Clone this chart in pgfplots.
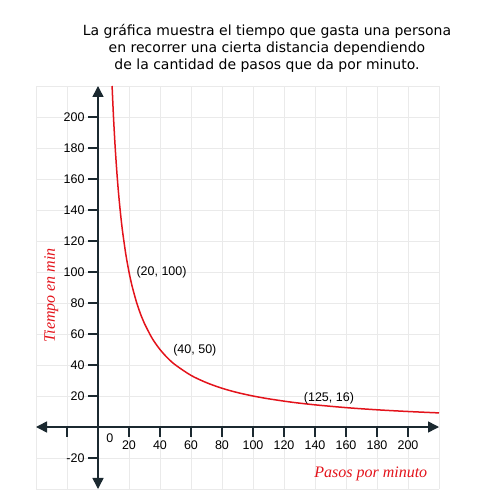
\documentclass[border=0pt]{standalone}
\usepackage{fontspec}
\setmainfont{Liberation Sans}
\newfontfamily\titlefont{DejaVu Sans}
\newfontfamily\labelfont{Liberation Serif}
\usepackage{pgfplots}
\pgfplotsset{compat=1.18}
\usetikzlibrary{arrows.meta}
\definecolor{axiscol}{HTML}{1B2930}
\definecolor{curvered}{HTML}{E3131B}
\definecolor{gridcol}{HTML}{EAEAEA}
\begin{document}
\begin{tikzpicture}
\useasboundingbox (0,0) rectangle (500bp,500bp);
\begin{axis}[
  at={(36bp,11bp)}, anchor=south west,
  scale only axis, width=403bp, height=403bp,
  xmin=-40, xmax=220, ymin=-40, ymax=220,
  axis lines=middle,
  axis line style={line width=1.6bp, color=axiscol, {Triangle[length=11bp,width=11bp]}-{Triangle[length=11bp,width=11bp]}},
  xtick={-20,20,40,60,80,100,120,140,160,180,200},
  xticklabels={,20,40,60,80,100,120,140,160,180,200},
  ytick={-20,20,40,60,80,100,120,140,160,180,200},
  minor xtick={-40,-20,...,220},
  minor ytick={-40,-20,...,220},
  grid=minor,
  minor grid style={gridcol, line width=0.8bp},
  minor tick length=0pt,
  tick align=outside,
  major tick length=10bp,
  every tick/.style={axiscol, line width=1.4bp},
  tick label style={font=\fontsize{12.5bp}{14bp}\selectfont, color=black},
  /pgf/number format/assume math mode=true,
  clip=false,
]
\addplot[curvered, line width=1.5bp, smooth, tension=0.5] coordinates {
(9.09,220) (10,200) (11,181.8) (12,166.7) (13,153.8) (14,142.9) (15,133.3)
(16,125) (18,111.1) (20,100) (22,90.9) (25,80) (28,71.4) (30,66.7) (35,57.1)
(40,50) (45,44.4) (50,40) (60,33.3) (70,28.6) (80,25) (90,22.2) (100,20)
(110,18.2) (125,16) (140,14.3) (160,12.5) (180,11.1) (200,10) (220,9.09)
};
\node[font=\fontsize{12.5bp}{14bp}\selectfont] at (axis cs:41,100) {(20, 100)};
\node[font=\fontsize{12.5bp}{14bp}\selectfont] at (axis cs:62.5,49.5) {(40, 50)};
\node[font=\fontsize{12.5bp}{14bp}\selectfont] at (axis cs:149,18.7) {(125, 16)};
\node[font=\fontsize{12.5bp}{14bp}\selectfont] at (axis cs:7.7,-7) {0};
\node[font=\labelfont\itshape\fontsize{16bp}{18bp}\selectfont, text=curvered] at (axis cs:176,-30.5) {Pasos por minuto};
\node[font=\labelfont\itshape\fontsize{16bp}{18bp}\selectfont, text=curvered, rotate=90] at (axis cs:-30.1,85) {Tiempo en min};
\end{axis}
\node[font=\titlefont\fontsize{14bp}{17bp}\selectfont, align=center] at (267bp,452bp) {La gráfica muestra el tiempo que gasta una persona\\en recorrer una cierta distancia dependiendo\\de la cantidad de pasos que da por minuto.};
\end{tikzpicture}
\end{document}
